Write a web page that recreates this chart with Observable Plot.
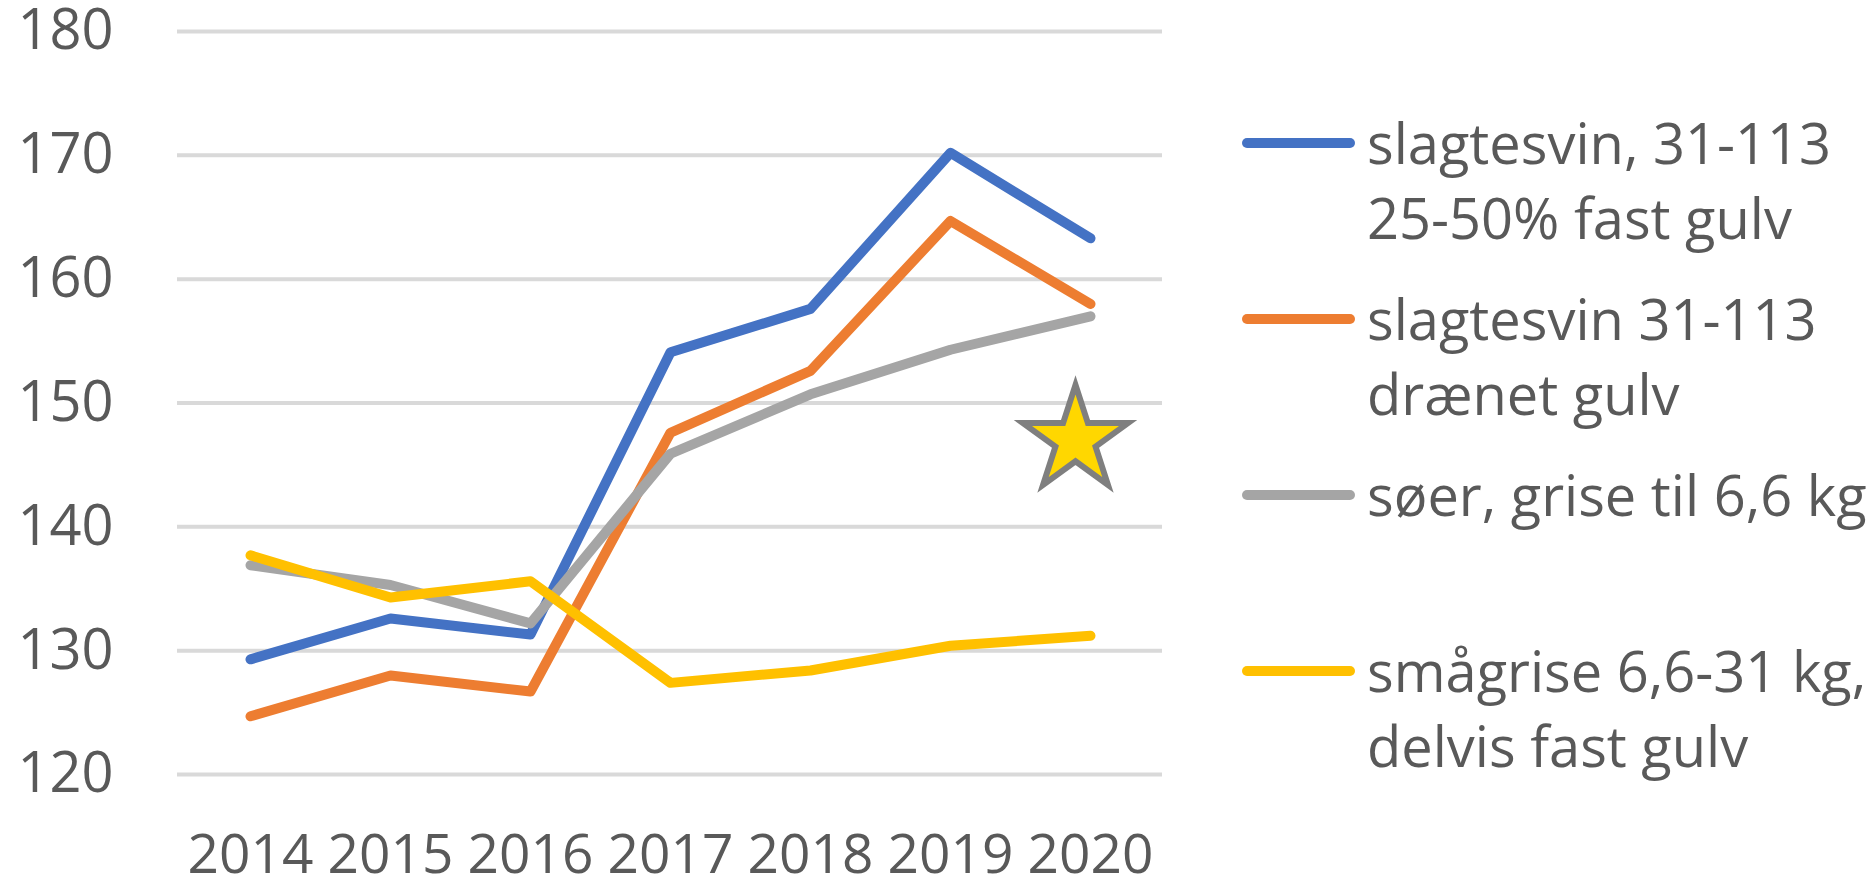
<!DOCTYPE html>
<html>
<head>
<meta charset="utf-8">
<script src="https://cdn.jsdelivr.net/npm/d3@7"></script>
<script src="https://cdn.jsdelivr.net/npm/@observablehq/plot@0.6"></script>
<style>
  html, body { margin: 0; padding: 0; background: #fff; }
  #wrap { position: relative; width: 1872px; height: 878px; overflow: hidden; font-family: "Open Sans", sans-serif; color: #595959; }
  #chart { position: absolute; left: 0; top: 0; }
  #legend { position: absolute; left: 1242px; top: 105px; }
  .item { height: 176px; display: flex; align-items: flex-start; }
  .sw { width: 113px; height: 10px; border-radius: 5px; margin-top: 33px; margin-right: 12px; flex: none; }
  .txt { font-size: 56px; line-height: 75px; white-space: nowrap; }
</style>
</head>
<body>
<div id="wrap"><div id="chart"></div><div id="legend"></div></div>
<script>
const years = ["2014", "2015", "2016", "2017", "2018", "2019", "2020"];
const seriesNames = [
  "slagtesvin, 31-113 25-50% fast gulv",
  "slagtesvin 31-113 drænet gulv",
  "søer, grise til 6,6 kg",
  "smågrise 6,6-31 kg, delvis fast gulv"
];
const legendLines = [
  ["slagtesvin, 31-113", "25-50% fast gulv"],
  ["slagtesvin 31-113", "drænet gulv"],
  ["søer, grise til 6,6 kg"],
  ["smågrise 6,6-31 kg,", "delvis fast gulv"]
];
const colors = ["#4472C4", "#ED7D31", "#A5A5A5", "#FFC000"];
const slagtesvinFast = [129.3, 132.6, 131.3, 154.1, 157.6, 170.2, 163.3];
const slagtesvinDraenet = [124.7, 128.0, 126.7, 147.6, 152.6, 164.7, 158.0];
const soeer = [136.9, 135.3, 132.2, 145.9, 150.7, 154.3, 157.0];
const smaagrise = [137.7, 134.3, 135.6, 127.4, 128.4, 130.4, 131.2];
const yTicks = [120, 130, 140, 150, 160, 170, 180];
const starYear = ["2020"];
const starValue = [147];

const allValues = [slagtesvinFast, slagtesvinDraenet, soeer, smaagrise];
const data = seriesNames.flatMap((s, i) => years.map((y, j) => ({series: s, year: y, value: allValues[i][j]})));
const star = starYear.map((y, i) => ({year: y, value: starValue[i]}));

const chart = Plot.plot({
  width: 1200,
  height: 878,
  marginLeft: 177,
  marginRight: 38,
  marginTop: 31,
  marginBottom: 104,
  style: {fontFamily: "Open Sans, sans-serif", fontSize: "56px", color: "#595959", background: "white", overflow: "visible"},
  x: {type: "point", domain: years, padding: 0.5, label: null},
  y: {domain: [120, 180], label: null},
  color: {domain: seriesNames, range: colors},
  marks: [
    Plot.gridY(yTicks, {stroke: "#D9D9D9", strokeOpacity: 1, strokeWidth: 4}),
    Plot.axisY(yTicks, {tickSize: 0, tickPadding: 64, fontSize: 56, fill: "#595959", label: null}),
    Plot.axisX({tickSize: 0, tickPadding: 59, fontSize: 55, fill: "#595959", label: null}),
    Plot.line(data, {x: "year", y: "value", z: "series", stroke: "series", strokeWidth: 10, strokeLinecap: "round", strokeLinejoin: "round"}),
    Plot.dot(star, {x: "year", y: "value", symbol: "star", r: 33, fill: "#FFD700", stroke: "#7F7F7F", strokeWidth: 6, dx: -15})
  ]
});
document.getElementById("chart").appendChild(chart);

const legend = d3.select("#legend");
seriesNames.forEach((s, i) => {
  const item = legend.append("div").attr("class", "item");
  item.append("div").attr("class", "sw").style("background", colors[i]);
  const t = item.append("div").attr("class", "txt");
  legendLines[i].forEach(l => t.append("div").text(l));
});
</script>
</body>
</html>
